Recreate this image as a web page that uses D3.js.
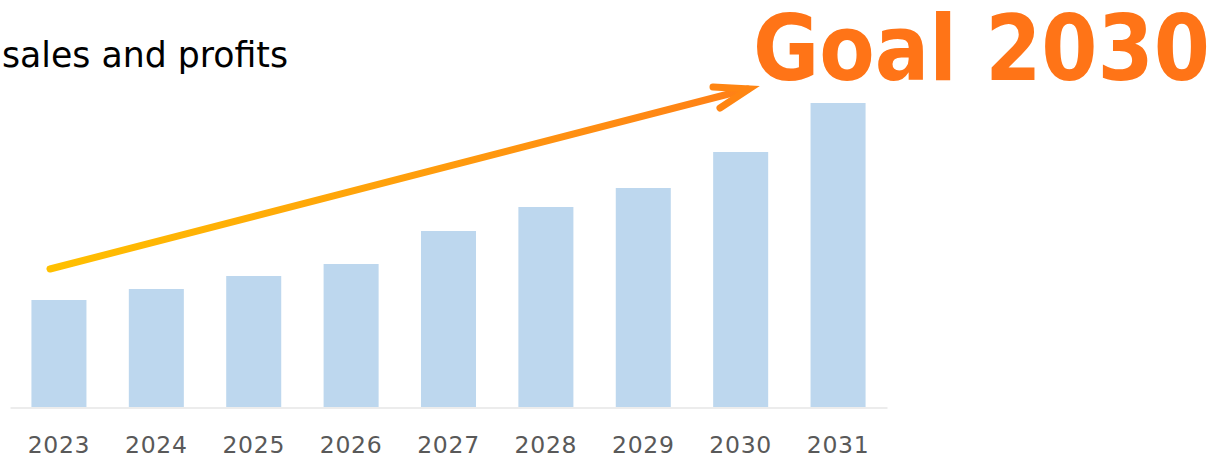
<!DOCTYPE html>
<html><head><meta charset="utf-8">
<script src="https://cdn.jsdelivr.net/npm/d3@7"></script>
<style>body{margin:0;background:#fff}svg{display:block}</style>
</head><body>
<svg id="c" width="1214" height="457"></svg>
<script>
const categories = ["2023","2024","2025","2026","2027","2028","2029","2030","2031"];
const values = [107,118,131,143,176,200,219,255,304];
const titleText = "sales and profits";
const goalText = "Goal 2030";

const svg = d3.select("#c");
const x = d3.scaleBand().domain(categories).range([10,887]).paddingInner(0.435).paddingOuter(0.22);
const y = d3.scaleLinear().domain([0,304]).range([407,103]);

svg.append("g").selectAll("rect").data(values).join("rect")
  .attr("x",(d,i)=>x(categories[i])).attr("width",x.bandwidth())
  .attr("y",d=>y(d)).attr("height",d=>y(0)-y(d)).attr("fill","#BDD7EE");

const ax = svg.append("g").attr("transform","translate(0,407.5)")
  .call(d3.axisBottom(x).tickSize(0).tickPadding(0));
ax.select(".domain").attr("stroke","#D9D9D9").attr("stroke-width",1);
ax.selectAll("text").attr("y",45).attr("dy",null)
  .attr("font-family","DejaVu Sans").attr("font-size",23.5).attr("letter-spacing",0.7).attr("fill","#595959");

svg.append("text").attr("x",2).attr("y",67).attr("textLength",286).attr("lengthAdjust","spacingAndGlyphs")
  .attr("font-family","DejaVu Sans").attr("font-size",35).attr("fill","#000").text(titleText);

const defs = svg.append("defs");
const g = defs.append("linearGradient").attr("id","ag").attr("gradientUnits","userSpaceOnUse")
  .attr("x1",50).attr("y1",269).attr("x2",750).attr("y2",89);
g.append("stop").attr("offset",0).attr("stop-color","#FFC000");
g.append("stop").attr("offset",1).attr("stop-color","#FF7F17");

svg.append("path").attr("d","M50,269L748,89").attr("stroke","url(#ag)").attr("stroke-width",7)
  .attr("stroke-linecap","round").attr("fill","none");
svg.append("path").attr("d","M713,87L749,89L720,108").attr("stroke","#FF8512").attr("stroke-width",7)
  .attr("stroke-linecap","round").attr("stroke-linejoin","miter").attr("fill","none");

svg.append("text").attr("x",753).attr("y",80).attr("textLength",457).attr("lengthAdjust","spacingAndGlyphs")
  .attr("font-family","DejaVu Sans").attr("font-weight","bold").attr("font-size",90).attr("fill","#FF7417").text(goalText);
</script>
</body></html>
